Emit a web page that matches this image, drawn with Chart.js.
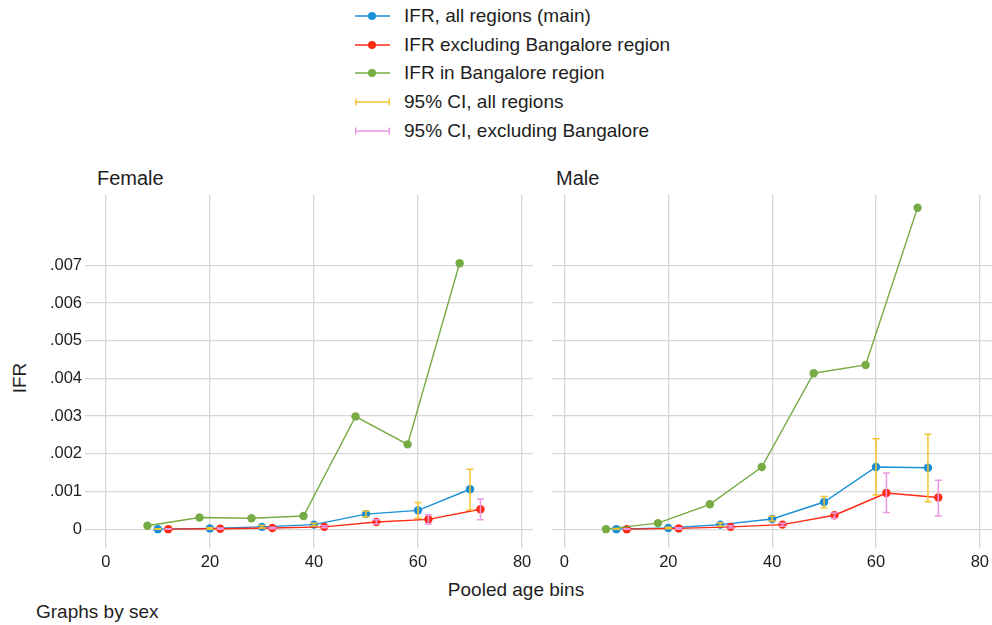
<!DOCTYPE html>
<html>
<head>
<meta charset="utf-8">
<script src="https://cdn.jsdelivr.net/npm/chart.js@4/dist/chart.umd.min.js"></script>
<style>
  html, body { margin:0; padding:0; }
  body { width:992px; height:625px; position:relative; overflow:hidden; background:#fff;
         font-family:"Liberation Sans", Arial, Helvetica, sans-serif; color:#1e1e1e; }
  .abs { position:absolute; white-space:nowrap; }
  .leg { position:absolute; left:355px; width:500px; height:24px; line-height:24px; font-size:19px; white-space:nowrap; }
  .leg svg { position:absolute; left:0; top:0; }
  .leg span { position:absolute; left:49px; top:0; white-space:nowrap; }
  canvas { position:absolute; }
</style>
</head>
<body>
<script>
// ---------------- DATA ----------------
const ageBinsAll  = [10, 20, 30, 40, 50, 60, 70];   // IFR, all regions (main)
const ageBinsExcl = [12, 22, 32, 42, 52, 62, 72];   // IFR excluding Bangalore
const ageBinsBlr  = [8, 18, 28, 38, 48, 58, 68];    // IFR in Bangalore region

// Female
const ifrAllF   = [0.00000, 0.00002, 0.00006, 0.00012, 0.00040, 0.00050, 0.00106];
const ifrExclF  = [0.00000, 0.00001, 0.00003, 0.00006, 0.00019, 0.00026, 0.00053];
const ifrBlrF   = [0.00009, 0.00031, 0.00029, 0.00035, 0.00299, 0.00225, 0.00706];
const ciAllLoF  = [0.00000, 0.00000, 0.00003, 0.00009, 0.00032, 0.00029, 0.00051];
const ciAllHiF  = [0.00001, 0.00004, 0.00010, 0.00016, 0.00048, 0.00071, 0.00159];
const ciExclLoF = [0.00000, 0.00000, 0.00001, 0.00004, 0.00014, 0.00014, 0.00025];
const ciExclHiF = [0.00001, 0.00003, 0.00005, 0.00009, 0.00025, 0.00038, 0.00080];

// Male
const ifrAllM   = [0.00000, 0.00003, 0.00012, 0.00027, 0.00072, 0.00165, 0.00163];
const ifrExclM  = [0.00000, 0.00002, 0.00006, 0.00012, 0.00037, 0.00096, 0.00084];
const ifrBlrM   = [0.00000, 0.00016, 0.00066, 0.00165, 0.00414, 0.00436, 0.00853];
const ciAllLoM  = [0.00000, 0.00001, 0.00008, 0.00022, 0.00057, 0.00091, 0.00073];
const ciAllHiM  = [0.00001, 0.00005, 0.00017, 0.00034, 0.00087, 0.00240, 0.00252];
const ciExclLoM = [0.00000, 0.00000, 0.00003, 0.00008, 0.00029, 0.00044, 0.00035];
const ciExclHiM = [0.00001, 0.00004, 0.00009, 0.00016, 0.00043, 0.00149, 0.00130];

const xTicks = [0, 20, 40, 60, 80];
const yTicks = [0, 0.001, 0.002, 0.003, 0.004, 0.005, 0.006, 0.007];

const seriesNames = ["IFR, all regions (main)", "IFR excluding Bangalore region",
                     "IFR in Bangalore region", "95% CI, all regions", "95% CI, excluding Bangalore"];
const panelNames = ["Female", "Male"];
// --------------------------------------

const C_BLUE = "#1a8fd6", C_RED = "#ff2a12", C_GREEN = "#77ab43",
      C_YEL = "#f6c331", C_PINK = "#ec98e4", C_GRID = "#d7d7d7";
const FONT = '"Liberation Sans", Arial, Helvetica, sans-serif';
</script>

<!-- Legend -->
<div id="legend"></div>

<div class="abs" style="left:97px; top:166px; font-size:20px; line-height:24px;" id="t0"></div>
<div class="abs" style="left:556px; top:166px; font-size:20px; line-height:24px;" id="t1"></div>
<div class="abs" style="left:20px; top:378px; font-size:19px; line-height:22px; transform:translate(-50%,-50%) rotate(-90deg);">IFR</div>
<div class="abs" style="left:516px; top:590px; font-size:19px; line-height:22px; transform:translate(-50%,-50%);">Pooled age bins</div>
<div class="abs" style="left:36px; top:601px; font-size:19px; line-height:22px;">Graphs by sex</div>

<canvas id="cF" width="540" height="420" style="left:0px; top:185px;"></canvas>
<canvas id="cM" width="451" height="420" style="left:545px; top:185px;"></canvas>

<script>
document.getElementById('t0').textContent = panelNames[0];
document.getElementById('t1').textContent = panelNames[1];

// legend
(function(){
  const rowsY = [16, 44.5, 73, 102, 131];
  const cols = [C_BLUE, C_RED, C_GREEN, C_YEL, C_PINK];
  const leg = document.getElementById('legend');
  rowsY.forEach((cy, i) => {
    const d = document.createElement('div');
    d.className = 'leg';
    d.style.top = (cy - 12) + 'px';
    let svg;
    if (i < 3) {
      svg = `<svg width="36" height="24"><line x1="0" y1="12" x2="35" y2="12" stroke="${cols[i]}" stroke-width="1.4"/><circle cx="17" cy="12" r="4" fill="${cols[i]}"/></svg>`;
    } else {
      svg = `<svg width="36" height="24"><line x1="0.7" y1="12" x2="34.3" y2="12" stroke="${cols[i]}" stroke-width="1.5"/><line x1="0.7" y1="8.5" x2="0.7" y2="15.5" stroke="${cols[i]}" stroke-width="1.5"/><line x1="34.3" y1="8.5" x2="34.3" y2="15.5" stroke="${cols[i]}" stroke-width="1.5"/></svg>`;
    }
    d.innerHTML = svg + `<span>${seriesNames[i]}</span>`;
    leg.appendChild(d);
  });
})();

const errorBarPlugin = {
  id: 'errbars',
  afterDatasetsDraw(chart, args, opts) {
    const ctx = chart.ctx, xs = chart.scales.x, ys = chart.scales.y;
    ctx.save();
    opts.bars.forEach(b => {
      ctx.strokeStyle = b.color;
      ctx.lineWidth = 1.5;
      b.x.forEach((xv, i) => {
        const px = xs.getPixelForValue(xv);
        const p1 = ys.getPixelForValue(b.lo[i]);
        const p2 = ys.getPixelForValue(b.hi[i]);
        ctx.beginPath();
        ctx.moveTo(px, p1); ctx.lineTo(px, p2);
        ctx.moveTo(px - 3.5, p1); ctx.lineTo(px + 3.5, p1);
        ctx.moveTo(px - 3.5, p2); ctx.lineTo(px + 3.5, p2);
        ctx.stroke();
      });
    });
    ctx.restore();
  }
};

function pts(xa, ya) { return xa.map((x, i) => ({x: x, y: ya[i]})); }

function makeChart(id, d, showY, xmin, xmax, pad) {
  const ds = (label, xa, ya, col, order) => ({
    label, data: pts(xa, ya), borderColor: col, backgroundColor: col,
    pointBackgroundColor: col, pointBorderWidth: 0, pointRadius: 4.2,
    borderWidth: 1.4, showLine: true, tension: 0, order, clip: false
  });
  return new Chart(document.getElementById(id), {
    type: 'scatter',
    data: { datasets: [
      ds(seriesNames[0], ageBinsAll, d.all, C_BLUE, 3),
      ds(seriesNames[1], ageBinsExcl, d.excl, C_RED, 2),
      ds(seriesNames[2], ageBinsBlr, d.blr, C_GREEN, 1)
    ]},
    plugins: [errorBarPlugin],
    options: {
      responsive: false, animation: false, devicePixelRatio: 1,
      layout: { padding: pad },
      plugins: {
        legend: { display: false }, tooltip: { enabled: false },
        errbars: { bars: [
          { x: ageBinsAll, lo: d.aLo, hi: d.aHi, color: C_YEL },
          { x: ageBinsExcl, lo: d.eLo, hi: d.eHi, color: C_PINK }
        ]}
      },
      scales: {
        x: {
          type: 'linear', min: xmin, max: xmax,
          afterBuildTicks: s => { s.ticks = xTicks.map(v => ({value: v})); },
          afterFit: s => { s.height = 57; s.paddingLeft = 0; s.paddingRight = 0; },
          grid: { color: C_GRID, lineWidth: 1.3, drawTicks: false },
          border: { display: false },
          ticks: { autoSkip: false, maxRotation: 0, padding: 5, color: '#1e1e1e',
                   font: { family: FONT, size: 16.5 }, callback: v => String(v) }
        },
        y: {
          type: 'linear', min: -0.0005, max: 0.00887,
          afterBuildTicks: s => { s.ticks = yTicks.map(v => ({value: v})); },
          afterFit: s => { s.width = showY ? 85 : 0; s.paddingTop = 0; s.paddingBottom = 0; },
          grid: { color: C_GRID, lineWidth: 1.3, drawTicks: false },
          border: { display: false },
          ticks: { display: showY, autoSkip: false, padding: 3, color: '#1e1e1e',
                   font: { family: FONT, size: 16.5 },
                   callback: v => v === 0 ? '0' : v.toFixed(3).replace(/^0/, '') }
        }
      }
    }
  });
}

makeChart('cF', { all: ifrAllF, excl: ifrExclF, blr: ifrBlrF,
                  aLo: ciAllLoF, aHi: ciAllHiF, eLo: ciExclLoF, eHi: ciExclHiF },
          true, -4, 82.1, { left: 0, right: 7, top: 10, bottom: 0 });
makeChart('cM', { all: ifrAllM, excl: ifrExclM, blr: ifrBlrM,
                  aLo: ciAllLoM, aHi: ciAllHiM, eLo: ciExclLoM, eHi: ciExclHiM },
          false, -2.4, 82.3, { left: 7, right: 0, top: 10, bottom: 0 });
</script>
</body>
</html>
